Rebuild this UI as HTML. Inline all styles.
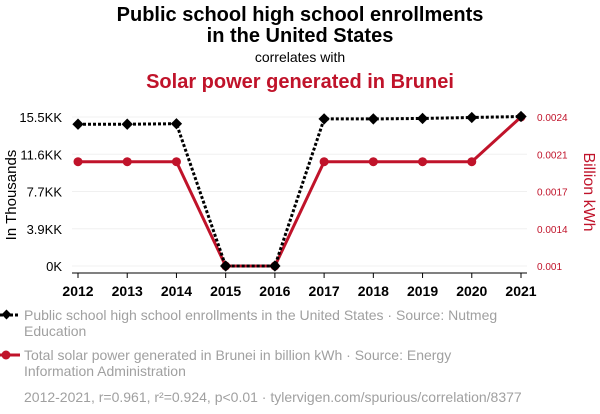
<!DOCTYPE html>
<html><head><meta charset="utf-8"><style>
body{margin:0;background:#fff;font-family:"Liberation Sans",Arial,sans-serif;}
svg{display:block}
</style></head><body>
<svg id="chart" width="600" height="414" xmlns="http://www.w3.org/2000/svg">
<text x="300" y="21" text-anchor="middle" font-size="20" font-weight="bold" fill="#000">Public school high school enrollments</text>
<text x="300" y="42" text-anchor="middle" font-size="20" font-weight="bold" fill="#000">in the United States</text>
<text x="300" y="62" text-anchor="middle" font-size="14" fill="#000">correlates with</text>
<text x="300" y="88" text-anchor="middle" font-size="20" font-weight="bold" fill="#c0132a">Solar power generated in Brunei</text>
<g id="grid"></g>
<g id="axes"></g>
<g id="series"></g>
<text transform="translate(16,195) rotate(-90)" text-anchor="middle" font-size="15" fill="#000">In Thousands</text>
<text transform="translate(584,192) rotate(90)" text-anchor="middle" font-size="16" fill="#c0132a">Billion kWh</text>
<g>
<line x1="0" y1="315" x2="20" y2="315" stroke="#000" stroke-width="3" stroke-dasharray="3,2"/>
<rect x="3" y="311" width="7" height="7" fill="#000" transform="rotate(45 6.5 314.5)"/>
<text x="24" y="320" font-size="14" fill="#a0a0a0">Public school high school enrollments in the United States · Source: Nutmeg</text>
<text x="24" y="336" font-size="14" fill="#a0a0a0">Education</text>
</g>
<g>
<line x1="0" y1="355" x2="20" y2="355" stroke="#c0132a" stroke-width="3"/>
<circle cx="6" cy="355" r="4.5" fill="#c0132a"/>
<text x="24" y="360" font-size="14" fill="#a0a0a0">Total solar power generated in Brunei in billion kWh · Source: Energy</text>
<text x="24" y="376" font-size="14" fill="#a0a0a0">Information Administration</text>
</g>
<text x="24" y="402" font-size="14" fill="#a0a0a0">2012-2021, r=0.961, r²=0.924, p&lt;0.01 · tylervigen.com/spurious/correlation/8377</text>
</svg>
<script>
const years=[2012,2013,2014,2015,2016,2017,2018,2019,2020,2021];
const enrollments=[14.75,14.75,14.8,0,0,15.3,15.3,15.35,15.45,15.55];
const solar=[0.00198,0.00198,0.00198,0.001,0.001,0.00198,0.00198,0.00198,0.00198,0.0024];
const leftTickValues=[0,3.875,7.75,11.625,15.5];
const leftTickLabels=["0K","3.9KK","7.7KK","11.6KK","15.5KK"];
const rightTickValues=[0.001,0.00135,0.0017,0.00205,0.0024];
const rightTickLabels=["0.001","0.0014","0.0017","0.0021","0.0024"];
const NS="http://www.w3.org/2000/svg";
const x=i=>78+i*(521-78)/(years.length-1);
const yL=v=>266-v/15.5*149;
const yR=v=>266-(v-0.001)/0.0014*149;
function mk(tag,attrs,parent,txt){const e=document.createElementNS(NS,tag);for(const k in attrs)e.setAttribute(k,attrs[k]);if(txt!==undefined)e.textContent=txt;document.getElementById(parent).appendChild(e);return e;}
leftTickValues.forEach((v,i)=>{
 const g=mk('line',{x1:72,x2:527,y1:yL(v),y2:yL(v),stroke:'#f0f0f0','stroke-width':1},'grid');
 
 
 const t=mk('text',{x:62,y:yL(v)+5,'text-anchor':'end','font-size':13,fill:'#000'},'axes',leftTickLabels[i]);
 
 
});
rightTickValues.forEach((v,i)=>{
 const t=mk('text',{x:537,y:yR(v)+4,'font-size':10,fill:'#c0132a'},'axes',rightTickLabels[i]);
 
 
});
const ax=mk('line',{x1:72,x2:527,y1:273,y2:273,stroke:'#000','stroke-width':1},'axes');


years.forEach((yr,i)=>{
 mk('line',{x1:x(i),x2:x(i),y1:273,y2:278,stroke:'#000'},'axes');
 const t=mk('text',{x:x(i),y:296,'text-anchor':'middle','font-size':14,'font-weight':'bold',fill:'#000'},'axes',yr);
 
 
});
const rp=mk('polyline',{points:solar.map((v,i)=>x(i)+','+yR(v)).join(' '),fill:'none',stroke:'#c0132a','stroke-width':3},'series');


solar.forEach((v,i)=>{
 const c=mk('circle',{cx:x(i),cy:yR(v),r:4.5,fill:'#c0132a'},'series');
 
 
});
const bp=mk('polyline',{points:enrollments.map((v,i)=>x(i)+','+yL(v)).join(' '),fill:'none',stroke:'#000','stroke-width':3,'stroke-dasharray':'3,2'},'series');


enrollments.forEach((v,i)=>{
 const cx=x(i),cy=yL(v);
 const d=mk('rect',{x:cx-4,y:cy-4,width:8,height:8,fill:'#000',transform:`rotate(45 ${cx} ${cy})`},'series');
 
 
});
</script>
</body></html>
